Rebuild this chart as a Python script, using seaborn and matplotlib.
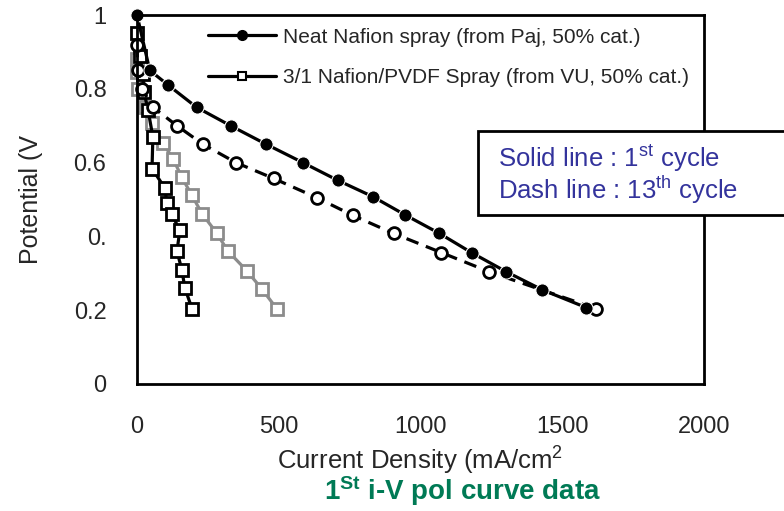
import numpy as np
import pandas as pd
import matplotlib.pyplot as plt
import matplotlib.patches as mpatches
import seaborn as sns

# values
# Neat Nafion spray, 1st cycle (solid, filled circles)
nafion1_i = [0, 45, 110, 210, 330, 455, 585, 708, 831, 944, 1067, 1180, 1303, 1430, 1585]
nafion1_v = [1.0, 0.85, 0.81, 0.75, 0.70, 0.65, 0.60, 0.552, 0.508, 0.459, 0.408, 0.356, 0.304, 0.255, 0.207]

# Neat Nafion spray, 13th cycle (dashed, open circles)
nafion13_i = [0, 3, 18, 56, 141, 232, 349, 482, 634, 761, 905, 1074, 1243, 1620]
nafion13_v = [0.92, 0.85, 0.80, 0.75, 0.70, 0.65, 0.60, 0.557, 0.505, 0.457, 0.408, 0.356, 0.304, 0.204]

# 3/1 Nafion/PVDF spray, black squares
pvdf_a_i = [0, 10, 20, 25, 39, 56, 53, 99, 105, 123, 151, 141, 158, 169, 194]
pvdf_a_v = [0.95, 0.89, 0.84, 0.79, 0.742, 0.67, 0.584, 0.53, 0.49, 0.46, 0.416, 0.36, 0.31, 0.26, 0.204]

# 3/1 Nafion/PVDF spray, grey squares
pvdf_b_i = [0, 0, 4, 28, 53, 92, 127, 158, 194, 229, 282, 320, 387, 440, 493]
pvdf_b_v = [0.88, 0.845, 0.80, 0.75, 0.706, 0.652, 0.611, 0.56, 0.511, 0.462, 0.408, 0.361, 0.307, 0.258, 0.204]

x_ticks = [0, 500, 1000, 1500, 2000]
y_ticks = [0, 0.2, 0.4, 0.6, 0.8, 1.0]
y_tick_labels = ['0', '0.2', '0.', '0.6', '0.8', '1']

sns.set_style('white')
plt.rcParams['font.family'] = ['Liberation Sans', 'DejaVu Sans']
plt.rcParams['mathtext.fontset'] = 'custom'
plt.rcParams['mathtext.rm'] = 'Liberation Sans'
plt.rcParams['mathtext.it'] = 'Liberation Sans:italic'
plt.rcParams['mathtext.bf'] = 'Liberation Sans:bold'

fig = plt.figure(figsize=(7.84, 5.11), dpi=100)
ax = fig.add_axes([137 / 784, 1 - 384 / 511, (704 - 137) / 784, (384 - 15) / 511])

grey = '#8c8c8c'
sns.lineplot(x=pvdf_b_i, y=pvdf_b_v, sort=False, estimator=None, ax=ax, color=grey,
             linewidth=2.3, marker='s', markersize=8.5, markerfacecolor='white',
             markeredgecolor=grey, markeredgewidth=2, label='_nolegend_', clip_on=False)
sns.lineplot(x=pvdf_a_i, y=pvdf_a_v, sort=False, estimator=None, ax=ax, color='black',
             linewidth=2.3, marker='s', markersize=8.5, markerfacecolor='white',
             markeredgecolor='black', markeredgewidth=2, label='_nolegend_', clip_on=False)
sns.lineplot(x=nafion13_i, y=nafion13_v, sort=False, estimator=None, ax=ax, color='black',
             linewidth=2.3, linestyle=(0, (4, 2.5)), marker='o', markersize=8.5,
             markerfacecolor='white', markeredgecolor='black', markeredgewidth=2,
             label='_nolegend_', clip_on=False)
sns.lineplot(x=nafion1_i, y=nafion1_v, sort=False, estimator=None, ax=ax, color='black',
             linewidth=2.3, marker='o', markersize=9.5, label='_nolegend_', clip_on=False)

# legend handles
h1, = ax.plot([], [], color='black', linewidth=2.3, marker='o', markersize=7)
h2, = ax.plot([], [], color='black', linewidth=2.3, marker='s', markersize=6,
              markerfacecolor='white', markeredgewidth=1.5)
ax.legend([h1, h2], ['Neat Nafion spray (from Paj, 50% cat.)',
                     '3/1 Nafion/PVDF Spray (from VU, 50% cat.)'],
          loc='upper right', bbox_to_anchor=(0.995, 1.0), frameon=False, fontsize=15,
          handlelength=3.3, handletextpad=0.3, labelspacing=1.05, borderaxespad=0.2)

ax.set_xlim(0, 2000)
ax.set_ylim(0, 1.0)
ax.set_xticks(x_ticks)
ax.set_xticklabels([str(t) for t in x_ticks])
ax.set_yticks(y_ticks)
ax.set_yticklabels(y_tick_labels)
ax.tick_params(axis='both', length=0, labelsize=17)
ax.tick_params(axis='x', pad=23)
ax.tick_params(axis='y', pad=22)
for sp in ax.spines.values():
    sp.set_color('black')
    sp.set_linewidth(2)

ax.set_xlabel('Current Density (mA/cm$^2$', fontsize=18.5, labelpad=5)
ax.set_ylabel('Potential (V', fontsize=18, labelpad=22)

# annotation box
box = mpatches.Rectangle((478 / 784, 1 - 215 / 511), 0.5, (215 - 131) / 511,
                         transform=fig.transFigure, facecolor='white', edgecolor='black',
                         linewidth=2, zorder=5, clip_on=False)
fig.patches.append(box)
fig.text(498 / 784, 1 - 159 / 511, 'Solid line : 1$^{\\rm st}$ cycle', color='#33339c',
         fontsize=18.5, va='center', zorder=6)
fig.text(498 / 784, 1 - 190 / 511, 'Dash line : 13$^{\\rm th}$ cycle', color='#33339c',
         fontsize=18.5, va='center', zorder=6)

fig.text(463 / 784, 1 - 491 / 511, '1$^{\\mathbf{St}}$ i-V pol curve data', color='#007a55',
         fontsize=20, fontweight='bold', ha='center', va='center')

fig.savefig('out.png', dpi=100)
